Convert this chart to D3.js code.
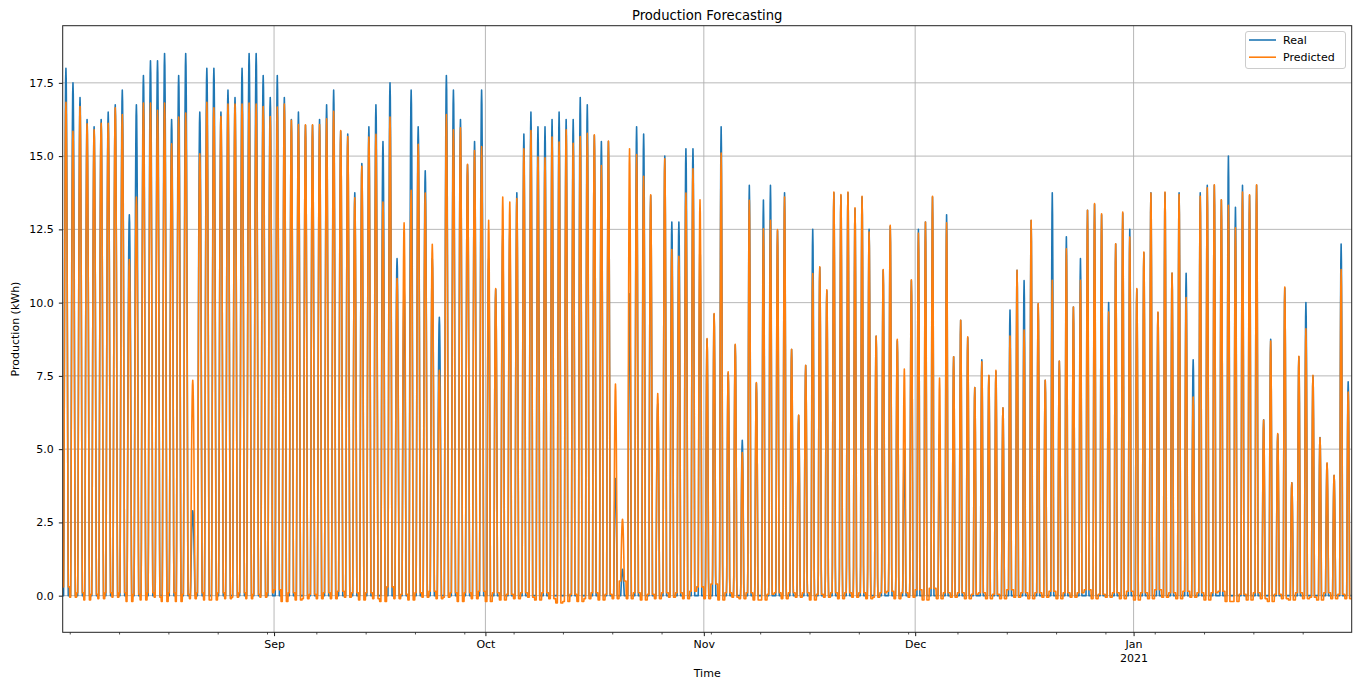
<!DOCTYPE html>
<html><head><meta charset="utf-8">
<script src="https://cdn.jsdelivr.net/npm/d3@7"></script>
<style>
body{margin:0;background:#fff}
svg{display:block}
text{font-family:"DejaVu Sans",sans-serif;fill:#000}
</style>
</head><body><svg id="c" width="1360" height="682"></svg>
<script>
// Daily peak values (kWh), 2020-08-02 .. 2021-01-31
const realPeak = [
 18.0,17.5,17.0,16.25,16.0,16.25,16.5,16.75,17.25,13.0,16.75,17.75,18.25,18.25,18.5,16.25,17.75,18.5,2.9,16.5,18.0,18.0,16.5,17.25,17.0,18.0,18.5,18.5,17.75,17.0,
 17.75,17.0,16.25,16.5,16.05,16.05,16.25,16.75,17.25,15.85,15.75,13.75,14.75,16.0,16.75,15.5,17.5,11.5,10.5,17.25,16.0,14.5,11.5,9.5,17.75,17.25,16.25,14.7,15.5,17.25,
 11.5,10.45,12.3,12.5,13.75,15.75,16.5,16.0,16.0,16.25,16.5,16.25,16.25,17.0,16.75,15.7,15.5,15.5,4.0,0.9,10.3,16.0,15.75,13.65,6.55,15.0,12.75,12.75,15.25,15.25,12.0,
 8.75,9.6,16.0,7.6,8.55,5.3,14.0,7.25,13.5,14.0,12.45,13.75,8.4,6.15,7.85,12.5,11.2,10.4,13.75,13.65,13.75,13.2,13.6,12.5,8.85,11.1,12.6,8.7,5.0,10.75,
 12.5,12.75,13.6,5.5,13.0,8.15,9.4,8.8,7.1,8.05,7.5,7.65,6.4,9.75,11.1,10.75,12.8,9.95,7.35,13.75,8.0,12.25,9.85,11.5,13.15,13.35,13.0,10.0,12.0,13.05,12.5,
 10.45,11.7,13.75,9.65,13.75,11.0,13.75,11.0,8.05,13.75,14.0,14.0,13.5,15.0,13.25,14.0,13.65,14.0,6.0,8.75,5.5,10.5,3.85,8.15,10.0,7.5,5.4,4.5,4.1,12.0,7.3
];
const predPeak = [
 16.84,15.85,16.69,16.1,15.9,16.12,16.12,16.65,16.42,11.47,13.6,16.81,16.81,16.56,16.81,15.42,16.33,16.47,7.35,15.08,16.84,16.65,16.35,16.78,16.78,16.78,16.81,16.78,16.69,16.35,
 16.67,16.78,16.22,16.08,16.07,16.07,16.08,16.27,16.53,15.87,15.67,13.58,14.65,15.65,15.74,13.43,16.33,10.82,12.72,13.83,15.4,13.74,11.99,7.69,16.42,15.9,15.97,14.72,15.19,15.33,
 12.81,10.48,13.6,13.43,13.55,15.25,15.87,14.97,14.94,15.65,15.48,15.9,15.44,15.67,15.78,15.73,14.68,15.51,7.22,2.61,15.25,15.05,14.31,13.68,6.9,14.91,11.81,11.58,13.74,14.57,13.51,
 8.77,9.63,15.1,7.64,8.58,4.88,13.49,7.27,12.52,12.81,12.49,13.6,8.41,6.16,7.86,10.99,11.22,10.44,13.77,13.69,13.77,13.24,13.63,12.41,8.86,11.13,12.64,8.75,7.73,10.78,
 12.37,12.75,13.63,7.43,12.72,8.15,9.4,8.83,7.1,7.98,7.52,7.69,6.41,8.86,11.1,9.06,12.81,9.97,7.35,10.76,8.01,11.84,9.85,10.76,13.15,13.38,13.03,9.68,12.01,13.09,12.24,
 10.48,11.73,13.74,9.68,13.77,11.01,13.69,10.17,6.78,13.63,13.92,14.02,13.51,13.32,12.55,13.77,13.68,14.02,5.99,8.69,5.53,10.53,3.85,8.17,9.11,7.52,5.39,4.53,4.11,11.13,6.95
];
// Night-time level of the prediction (kWh)
const predNight = [
 0.3,-0.05,0.1,-0.15,0.05,-0.1,0.1,-0.05,0.1,-0.2,0.05,-0.15,0.1,-0.05,-0.2,0.1,-0.2,0.05,-0.1,0.1,-0.15,-0.15,0.1,-0.1,-0.05,0.1,-0.1,0.05,-0.05,0.1,
 0.2,-0.2,0.1,-0.15,-0.1,0.05,-0.1,0.1,-0.1,0.15,-0.05,0.1,-0.15,0.1,-0.1,-0.2,0.3,-0.1,0.05,-0.15,0.1,-0.05,0.15,-0.1,-0.05,0.1,-0.2,0.1,-0.1,0.15,
 -0.2,0.1,-0.15,0.05,-0.1,0.1,-0.05,-0.15,0.1,-0.1,-0.25,-0.2,0.05,-0.2,-0.1,0.1,-0.15,0.05,-0.1,0.5,-0.1,0.1,-0.15,0.05,-0.1,0.1,-0.05,0.1,-0.1,0.15,0.3,
 -0.1,0.4,-0.15,0.1,-0.05,-0.1,0.1,-0.15,-0.15,0.05,0.1,-0.1,0.1,-0.05,0.1,-0.15,0.05,-0.05,0.1,-0.1,0.1,-0.05,0.1,-0.1,-0.05,0.1,0.15,-0.1,0.1,-0.05,
 0.2,-0.15,0.25,-0.1,0.1,-0.05,0.1,-0.1,0.05,0.1,-0.1,0.05,-0.1,0.2,-0.05,0.1,-0.1,0.1,-0.05,0.15,-0.1,0.1,-0.05,0.1,0.2,-0.1,0.05,-0.05,0.1,-0.1,0.15,
 -0.15,0.1,-0.1,0.2,-0.05,0.1,-0.1,0.15,-0.05,0.1,-0.15,0.1,0.15,-0.2,-0.2,0.05,-0.15,0.1,-0.1,-0.2,0.05,-0.1,-0.15,0.1,-0.1,-0.05,-0.15,0.1,-0.1,0.05,-0.1
];
// production hours per day, by month (Aug..Jan)
const daylightHours = [15, 13.5, 12, 10.5, 9.5, 10];
const peakHour = 11;
const yTicks = [0, 2.5, 5, 7.5, 10, 12.5, 15, 17.5];
const monthLabels = {8:"Sep", 9:"Oct", 10:"Nov", 11:"Dec", 0:"Jan\n2021"};
const seriesNames = ["Real", "Predicted"];
const colors = ["#1f77b4", "#ff7f0e"];

const startMs = Date.UTC(2020, 7, 2);
const HOUR = 3600e3;
const nDays = realPeak.length;

const realSeries = [], predSeries = [];
for (let d = 0; d < nDays; d++) {
  const dayMs = startMs + d * 24 * HOUR;
  const m = new Date(dayMs).getUTCMonth();
  const len = daylightHours[(m - 7 + 12) % 12];
  for (let h = 0; h < 24; h++) {
    const t = (h - peakHour) / (len / 2);
    const f = Math.abs(t) < 1 ? Math.cos(t * Math.PI / 2) : 0;
    const date = new Date(dayMs + h * HOUR);
    realSeries.push({t: date, v: realPeak[d] * f});
    predSeries.push({t: date, v: predPeak[d] * f + predNight[d] * (1 - f)});
  }
}

const L = 62.7, R = 1351.7, T = 25.7, B = 632.3;
const svg = d3.select("#c");
svg.append("rect").attr("width",1360).attr("height",682).attr("fill","#fff");

const x = d3.scaleUtc()
  .domain([realSeries[0].t, realSeries[realSeries.length-1].t])
  .range([L, R]);
const y = d3.scaleLinear().domain([-1.25, 19.45]).range([B, T]);

const months = d3.utcMonth.range(x.domain()[0], x.domain()[1]);
const mondays = d3.utcMonday.range(x.domain()[0], x.domain()[1]);

// grid
const grid = svg.append("g").attr("stroke","#b0b0b0").attr("stroke-width",0.9);
grid.selectAll("line.h").data(yTicks).join("line")
  .attr("x1",L).attr("x2",R).attr("y1",d=>y(d)).attr("y2",d=>y(d));
grid.selectAll("line.v").data(months).join("line")
  .attr("x1",d=>x(d)).attr("x2",d=>x(d)).attr("y1",T).attr("y2",B);

// lines
svg.append("clipPath").attr("id","clip").append("rect")
  .attr("x",L).attr("y",T).attr("width",R-L).attr("height",B-T);
const line = d3.line().x(d=>x(d.t)).y(d=>y(d.v));
const plot = svg.append("g").attr("clip-path","url(#clip)");
[realSeries, predSeries].forEach((s,i)=>{
  plot.append("path").datum(s).attr("d",line)
    .attr("fill","none").attr("stroke",colors[i]).attr("stroke-width",1.6)
    .attr("stroke-linejoin","round").attr("stroke-linecap","butt");
});

// axes
const xAxis = d3.axisBottom(x).tickValues(months).tickSize(3.85).tickPadding(3.85)
  .tickFormat(d => monthLabels[d.getUTCMonth()]);
const gx = svg.append("g").attr("transform",`translate(0,${B})`).call(xAxis);
gx.select(".domain").remove();
gx.selectAll("line").attr("stroke","#000").attr("stroke-width",0.9);
gx.selectAll("text").attr("font-size",11).attr("font-family","DejaVu Sans").each(function(d){
  const lbl = monthLabels[d.getUTCMonth()].split("\n");
  const t = d3.select(this).text(null);
  lbl.forEach((s,i)=>t.append("tspan").attr("x",0).attr("dy", i===0 ? "0.71em" : "1.27em").text(s));
}).attr("dy",null);

const xMinor = d3.axisBottom(x).tickValues(mondays).tickSize(2.2).tickFormat("");
const gxm = svg.append("g").attr("transform",`translate(0,${B})`).call(xMinor);
gxm.select(".domain").remove();
gxm.selectAll("line").attr("stroke","#000").attr("stroke-width",0.7);

const yAxis = d3.axisLeft(y).tickValues(yTicks).tickSize(3.85).tickPadding(5.2)
  .tickFormat(d3.format(".1f"));
const gy = svg.append("g").attr("transform",`translate(${L},0)`).call(yAxis);
gy.select(".domain").remove();
gy.selectAll("line").attr("stroke","#000").attr("stroke-width",0.9);
gy.selectAll("text").attr("font-size",11).attr("font-family","DejaVu Sans");

// spines
svg.append("rect").attr("x",L).attr("y",T).attr("width",R-L).attr("height",B-T)
  .attr("fill","none").attr("stroke","#222").attr("stroke-width",1);

// labels
svg.append("text").attr("x",(L+R)/2).attr("y",19.5).attr("text-anchor","middle")
  .attr("font-size",13.2).text("Production Forecasting");
svg.append("text").attr("x",(L+R)/2).attr("y",677).attr("text-anchor","middle")
  .attr("font-size",11).text("Time");
svg.append("text").attr("transform",`translate(19,${(T+B)/2}) rotate(-90)`)
  .attr("text-anchor","middle").attr("font-size",11).text("Production (kWh)");

// legend
const lg = svg.append("g");
lg.append("rect").attr("x",1245.5).attr("y",31.5).attr("width",100).attr("height",37)
  .attr("rx",2.5).attr("fill","#fff").attr("fill-opacity",0.8)
  .attr("stroke","#cccccc").attr("stroke-width",1);
seriesNames.forEach((n,i)=>{
  const yy = 40 + i*17.2;
  lg.append("line").attr("x1",1249).attr("x2",1276).attr("y1",yy).attr("y2",yy)
    .attr("stroke",colors[i]).attr("stroke-width",1.6);
  lg.append("text").attr("x",1283).attr("y",yy+4.2).attr("font-size",11).text(n);
});
</script>
</body></html>
